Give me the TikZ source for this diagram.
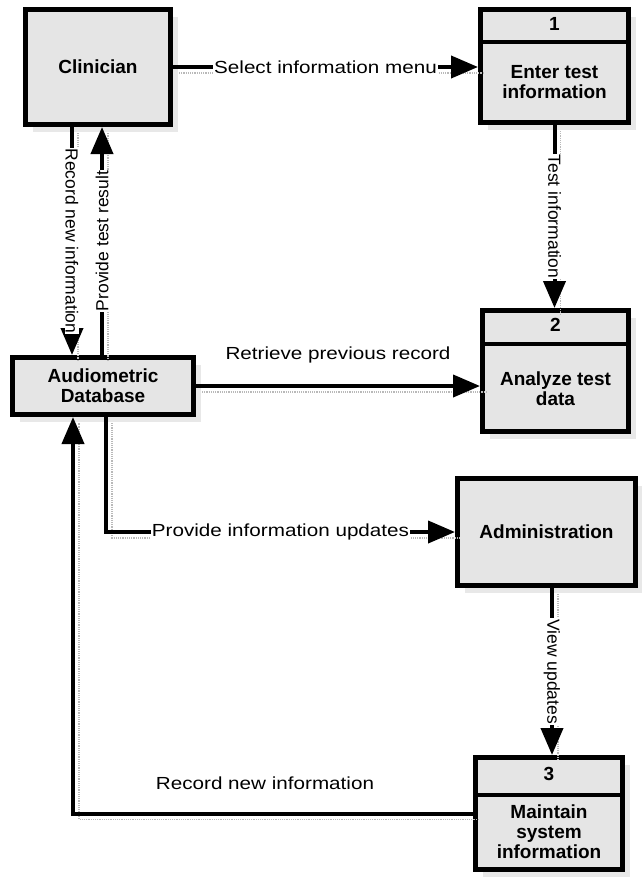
\documentclass[tikz,border=0pt]{standalone}
\usepackage{fontspec}
\setmainfont{Liberation Sans}
\newfontfamily\widesans[FakeStretch=1.18]{Liberation Sans}
\usetikzlibrary{arrows.meta,shadows}
\newcommand{\flowlabelfont}{\widesans\fontsize{17.5pt}{18pt}\selectfont}
\newcommand{\sidelabelfont}{\fontsize{17.5pt}{18pt}\selectfont}
\newcommand{\boxlabelfont}{\bfseries\fontsize{19pt}{20pt}\selectfont}
\begin{document}
\begin{tikzpicture}[x=1pt,y=-1pt,
  box/.style={draw=black, line width=5pt, fill=gray!20, inner sep=0pt,
    drop shadow={shadow xshift=7pt, shadow yshift=-7pt, fill=gray!35}},
  boxtext/.style={font=\boxlabelfont, align=center, inner sep=0pt},
  divider/.style={line width=4pt},
  flow/.style={line width=4pt, -{Triangle[length=27pt,width=22pt]},
    preaction={draw=gray!55, densely dotted, line width=1.2pt, -,
      transform canvas={shift={(6pt,-6pt)}}}},
  flowlabel/.style={font=\flowlabelfont, fill=white, inner xsep=1pt, inner ysep=2pt},
  sidelabel/.style={font=\sidelabelfont, fill=white, inner xsep=1pt, inner ysep=1pt},
  toplabel/.style={font=\flowlabelfont, inner sep=0pt}]
\useasboundingbox (0,0) rectangle (642,881);

% external entities and data store
\node[box, minimum width=145pt, minimum height=115pt] (clin) at (98,67) {};
\node[boxtext] (clintxt) at (clin) {Clinician};

\node[box, minimum width=181pt, minimum height=57pt] (db) at (103,386) {};
\node[boxtext] (dbtxt) at (db) {Audiometric\\Database};

\node[box, minimum width=178pt, minimum height=107pt] (admin) at (546.5,532) {};
\node[boxtext] (admintxt) at (admin) {Administration};

% process 1
\node[box, minimum width=148pt, minimum height=113pt] (p1) at (554.5,66) {};
\draw[divider] ([yshift=-34.5pt]p1.north west) -- ([yshift=-34.5pt]p1.north east);
\node[boxtext] (p1num) at ([yshift=-17pt]p1.north) {1};
\node[boxtext] (p1txt) at (554.5,82) {Enter test\\information};

% process 2
\node[box, minimum width=146pt, minimum height=121pt] (p2) at (555.5,371) {};
\draw[divider] ([yshift=-35.5pt]p2.north west) -- ([yshift=-35.5pt]p2.north east);
\node[boxtext] (p2num) at ([yshift=-16.5pt]p2.north) {2};
\node[boxtext] (p2txt) at (555.5,389) {Analyze test\\data};

% process 3
\node[box, minimum width=147pt, minimum height=112pt] (p3) at (549,813.5) {};
\draw[divider] ([yshift=-39.5pt]p3.north west) -- ([yshift=-39.5pt]p3.north east);
\node[boxtext] (p3num) at ([yshift=-18.5pt]p3.north) {3};
\node[boxtext] (p3txt) at (549,832) {Maintain\\system\\information};

% data flows
\draw[flow] (clin.east) -- (clin.east -| p1.west)
  node[midway, flowlabel] {Select information menu};

\draw[flow] ([xshift=-26pt]clin.south) coordinate (rn) -- (rn |- db.north)
  node[midway, sidelabel, rotate=-90] {Record new information};

\draw[flow] ([xshift=-1pt]db.north) coordinate (pt) -- (pt |- clin.south)
  node[midway, sidelabel, rotate=90] {Provide test result};

\draw[flow] (p1.south) -- (p1.south |- p2.north)
  node[midway, sidelabel, rotate=-90] {Test information};

\draw[flow] (db.east) -- (db.east -| p2.west)
  node[midway, yshift=31pt, toplabel] {Retrieve previous record};

\draw[flow] ([xshift=3pt]db.south) |- (admin.west)
  node[pos=0.75, flowlabel] {Provide information updates};

\draw[flow] ([xshift=5.5pt]admin.south) coordinate (vu) -- (vu |- p3.north)
  node[midway, sidelabel, rotate=-90] {View updates};

\draw[flow] (p3.west) -| ([xshift=-30pt]db.south)
  node[pos=0.26, yshift=30pt, toplabel] {Record new information};
\end{tikzpicture}
\end{document}
